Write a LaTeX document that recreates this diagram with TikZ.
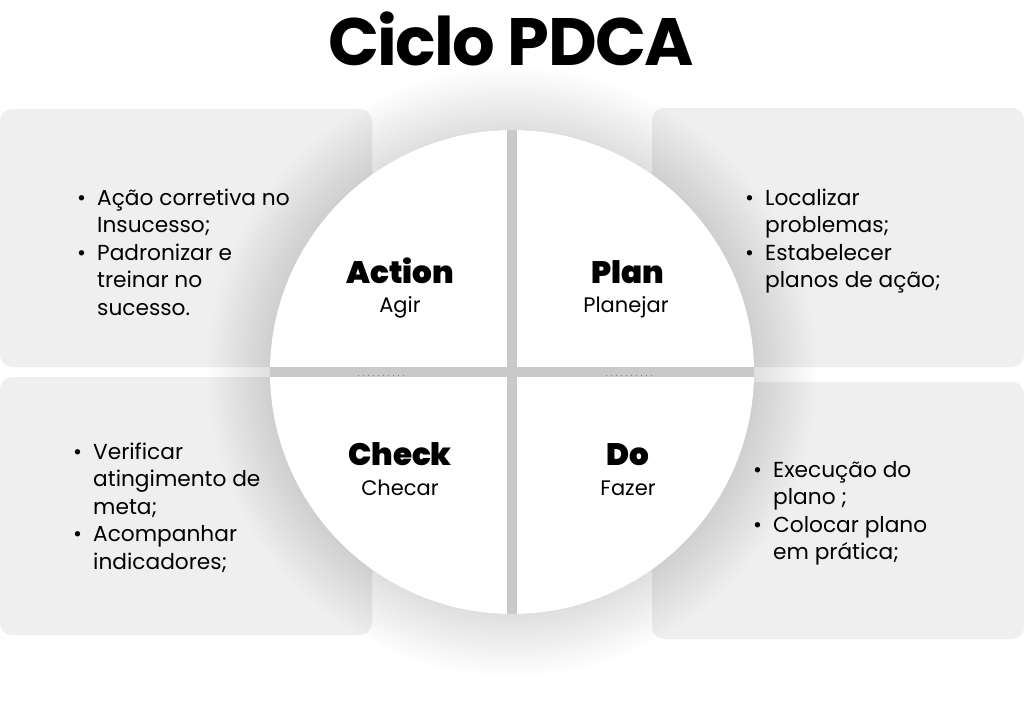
\documentclass[tikz,border=0pt]{standalone}
\usepackage{fontspec}
\setmainfont{Poppins}
\newfontfamily\pblack{Poppins}[UprightFont=* Black]
\newfontfamily\ptitle{Poppins}[UprightFont=* Bold, LetterSpace=-2.5]
\definecolor{boxgray}{HTML}{EFEFEF}
\definecolor{gapgray}{HTML}{C9C9C9}
\begin{document}
\begin{tikzpicture}[x=1pt,y=-1pt,
  infobox/.style={fill=boxgray, rounded corners=12pt},
  quad/.style={fill=white},
  head/.style={inner sep=0pt, anchor=base, font=\pblack\fontsize{31}{31}\selectfont},
  sub/.style={inner sep=0pt, anchor=base, font=\fontsize{21}{21}\selectfont},
  listtext/.style={inner sep=0pt, anchor=base west, align=left, font=\fontsize{21.7}{27.6}\selectfont}]
\useasboundingbox (0,0) rectangle (1024,713);
\fill[white] (0,0) rectangle (1024,713);
% boxes
\path[infobox] (0,109) rectangle (372,367);
\path[infobox] (0,377) rectangle (372,635);
\path[infobox] (652,108) rectangle (1024,367);
\path[infobox] (652,382) rectangle (1024,639);
% shadow of the circle
\coordinate (c) at (512,372);
\foreach \r in {244,248,...,304}
  \fill[black, opacity=0.008] (c) circle (\r pt);
% circle quadrants
\begin{scope}
  \clip (c) circle (242pt);
  \fill[gapgray] (200,100) rectangle (830,650);
  \path[quad] (200,100) rectangle (507,367);
  \path[quad] (517,100) rectangle (830,367);
  \path[quad] (200,377) rectangle (507,650);
  \path[quad] (517,377) rectangle (830,650);
\end{scope}
\draw[gray, line width=0.7pt, dash pattern=on 0.7pt off 4.3pt] (358,375) -- (405,375);
\draw[gray, line width=0.7pt, dash pattern=on 0.7pt off 4.3pt] (606,375) -- (653,375);
% title
\node[inner sep=0pt, anchor=base, font=\ptitle\fontsize{67}{67}\selectfont] (title) at (511,65) {Ciclo PDCA};
% quadrant labels
\node[head] (act) at (400,283) {Action};
\node[sub] (agir) at (400,312) {Agir};
\node[head] (plan) at (628,283) {Plan};
\node[sub] (planejar) at (626,312) {Planejar};
\node[head] (chk) at (400,465) {Check};
\node[sub] (checar) at (400,495) {Checar};
\node[head] (do) at (628,465) {Do};
\node[sub] (fazer) at (628,495) {Fazer};
% lists
\node[listtext] (tl) at (77,205) {\begin{tabular}[t]{@{}p{20pt}@{}l@{}}•&Ação corretiva no\\&Insucesso;\\•&Padronizar e\\&treinar no\\&sucesso.\end{tabular}};
\node[listtext] (tr) at (745,205) {\begin{tabular}[t]{@{}p{20pt}@{}l@{}}•&Localizar\\&problemas;\\•&Estabelecer\\&planos de ação;\end{tabular}};
\node[listtext] (bl) at (73,459) {\begin{tabular}[t]{@{}p{20pt}@{}l@{}}•&Verificar\\&atingimento de\\&meta;\\•&Acompanhar\\&indicadores;\end{tabular}};
\node[listtext] (br) at (753,477) {\begin{tabular}[t]{@{}p{20pt}@{}l@{}}•&Execução do\\&plano ;\\•&Colocar plano\\&em prática;\end{tabular}};
\end{tikzpicture}
\end{document}
